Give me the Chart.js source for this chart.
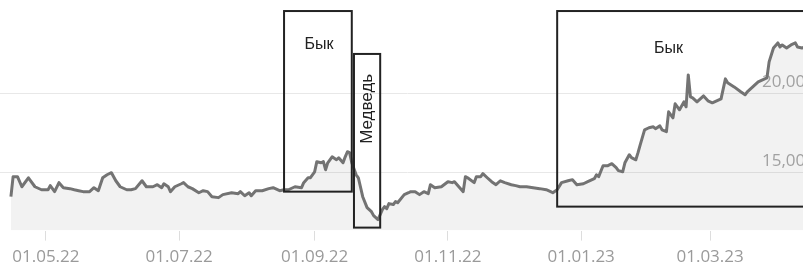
<!DOCTYPE html>
<html>
<head>
<meta charset="utf-8">
<script src="https://cdn.jsdelivr.net/npm/chart.js@4/dist/chart.umd.min.js"></script>
<style>
  html, body { margin: 0; padding: 0; background: #fff; overflow: hidden; }
  #wrap { width: 815px; height: 274px; position: relative; }
</style>
</head>
<body>
<div id="wrap"><canvas id="priceChart"></canvas></div>
<script>
const dates = [
  '2022-04-15','2022-04-16','2022-04-18','2022-04-20','2022-04-23','2022-04-26','2022-04-29',
  '2022-05-02','2022-05-03','2022-05-05','2022-05-07','2022-05-09','2022-05-12','2022-05-14',
  '2022-05-16','2022-05-18','2022-05-21','2022-05-23','2022-05-25','2022-05-27','2022-05-29',
  '2022-05-31','2022-06-02','2022-06-04','2022-06-07','2022-06-09','2022-06-11','2022-06-14',
  '2022-06-16','2022-06-19','2022-06-21','2022-06-23','2022-06-24','2022-06-26','2022-06-27',
  '2022-06-29','2022-07-02','2022-07-03','2022-07-05','2022-07-07','2022-07-10','2022-07-12',
  '2022-07-14','2022-07-16','2022-07-19','2022-07-21','2022-07-25','2022-07-28','2022-07-29',
  '2022-07-31','2022-08-02','2022-08-03','2022-08-05','2022-08-08','2022-08-11','2022-08-13',
  '2022-08-16','2022-08-18','2022-08-20','2022-08-23','2022-08-26','2022-08-27','2022-08-29',
  '2022-08-30','2022-09-01','2022-09-02','2022-09-04','2022-09-05','2022-09-06','2022-09-07',
  '2022-09-09','2022-09-11','2022-09-12','2022-09-14','2022-09-15','2022-09-16','2022-09-17',
  '2022-09-18','2022-09-20','2022-09-21','2022-09-23','2022-09-25','2022-09-27','2022-09-28',
  '2022-09-30','2022-10-01','2022-10-02','2022-10-03','2022-10-04','2022-10-05','2022-10-07',
  '2022-10-08','2022-10-09','2022-10-12','2022-10-14','2022-10-15','2022-10-17','2022-10-19',
  '2022-10-21','2022-10-23','2022-10-24','2022-10-26','2022-10-29','2022-11-01','2022-11-03',
  '2022-11-04','2022-11-06','2022-11-08','2022-11-09','2022-11-10','2022-11-13','2022-11-14',
  '2022-11-16','2022-11-17','2022-11-19','2022-11-21','2022-11-23','2022-11-25','2022-11-27',
  '2022-11-30','2022-12-02','2022-12-04','2022-12-07','2022-12-10','2022-12-13','2022-12-16',
  '2022-12-18','2022-12-19','2022-12-21','2022-12-23','2022-12-26','2022-12-28','2022-12-30',
  '2023-01-02','2023-01-04','2023-01-07','2023-01-08','2023-01-09','2023-01-11','2023-01-13',
  '2023-01-15','2023-01-17','2023-01-18','2023-01-20','2023-01-21','2023-01-23','2023-01-24',
  '2023-01-26','2023-01-27','2023-01-28','2023-01-30','2023-02-01','2023-02-03','2023-02-04',
  '2023-02-06','2023-02-07','2023-02-09','2023-02-10','2023-02-12','2023-02-13','2023-02-15',
  '2023-02-17','2023-02-18','2023-02-19','2023-02-20','2023-02-21','2023-02-23','2023-02-26',
  '2023-02-28','2023-03-02','2023-03-06','2023-03-08','2023-03-09','2023-03-12','2023-03-15',
  '2023-03-17','2023-03-18','2023-03-21','2023-03-23','2023-03-27','2023-03-28','2023-03-30',
  '2023-04-01','2023-04-02','2023-04-03','2023-04-05','2023-04-07','2023-04-09','2023-04-10',
  '2023-04-12','2023-04-15','2023-04-18'
];
const prices = [
  13480,14750,14750,14110,14680,14110,13920,
  13920,14180,13800,14370,14050,13990,13920,
  13860,13800,13800,14050,13860,14680,14870,
  15000,14490,14110,13920,13920,13990,14490,
  14110,14110,14240,14050,14300,14110,13800,
  14110,14300,14370,14110,13990,13730,13860,
  13800,13480,13420,13610,13730,13670,13800,
  13540,13730,13540,13860,13860,13990,14050,
  13860,13920,13920,14110,14050,14370,14680,
  14680,15060,15700,15630,15700,15190,15630,
  16010,15820,15950,15630,16010,16330,16270,
  15630,14870,14680,13480,12790,12530,12280,
  12030,12340,12660,12850,12720,13040,12980,
  13170,13100,13610,13730,13800,13800,13610,
  13800,13670,14240,14050,14110,14430,14370,
  14430,14110,13800,14750,14680,14370,14750,
  14750,14940,14680,14430,14240,14490,14370,
  14240,14180,14110,14110,14050,13990,13920,
  13800,13730,13920,14370,14490,14560,14240,
  14300,14430,14620,14870,14750,15440,15440,
  15570,15320,15130,15060,15630,16140,15950,
  15820,16270,16770,17720,17850,17910,17790,
  17970,17720,17600,18860,18480,19370,18990,
  19490,19180,21200,19810,19750,19490,19870,
  19560,19430,19680,20950,20700,20440,20130,
  19940,20130,20510,20760,21010,22030,22910,
  23230,22970,23100,22910,23100,23230,22970,
  22910,23040,22950
];

const tickDates = ['2022-05-01', '2022-07-01', '2022-09-01', '2022-11-01', '2023-01-01', '2023-03-01'];
const yTicks = [15000, 20000];

// zones drawn over the chart (in data units)
const zoneNames = ['Бык', 'Медведь', 'Бык'];
const zoneStart = ['2022-08-18', '2022-09-19', '2022-12-21'];
const zoneEnd = ['2022-09-18', '2022-10-01', '2023-06-01'];
const zoneHigh = [25250, 22530, 25250];
const zoneLow = [13800, 11520, 12850];
const nameDates = ['2022-09-03', '2022-09-25', '2023-02-10'];
const nameValues = [23100, 19050, 22850];
const nameRotated = [false, true, false];

const day = s => Date.parse(s) / 864e5;
const pad2 = n => String(n).padStart(2, '0');
function fmtDate(v) {
    const d = new Date(v * 864e5);
    return pad2(d.getUTCDate()) + '.' + pad2(d.getUTCMonth() + 1) + '.' + String(d.getUTCFullYear()).slice(2);
}

const zonePlugin = {
    id: 'zones',
    afterDatasetsDraw(chart) {
        const { ctx, scales: { x, y } } = chart;
        ctx.save();
        ctx.strokeStyle = '#222';
        ctx.lineWidth = 2;
        ctx.fillStyle = '#222';
        ctx.textAlign = 'center';
        ctx.textBaseline = 'middle';
        zoneNames.forEach((name, i) => {
            const x0 = x.getPixelForValue(day(zoneStart[i]));
            const x1 = x.getPixelForValue(day(zoneEnd[i]));
            const y0 = y.getPixelForValue(zoneHigh[i]);
            const y1 = y.getPixelForValue(zoneLow[i]);
            ctx.strokeRect(x0, y0, x1 - x0, y1 - y0);
            const tx = x.getPixelForValue(day(nameDates[i]));
            const ty = y.getPixelForValue(nameValues[i]);
            ctx.save();
            ctx.translate(tx, ty);
            if (nameRotated[i]) {
                ctx.rotate(-Math.PI / 2);
                ctx.font = '17px "Liberation Sans", Arial, sans-serif';
            } else {
                ctx.font = '16px "Liberation Sans", Arial, sans-serif';
            }
            ctx.fillText(name, 0, 0);
            ctx.restore();
        });
        ctx.restore();
    }
};

const noPad = s => { s.paddingTop = 0; s.paddingBottom = 0; s.paddingLeft = 0; s.paddingRight = 0; };

const priceCtx = document.getElementById('priceChart').getContext('2d');
const priceChart = new Chart(priceCtx, {
    type: 'line',
    data: {
        datasets: [{
            data: dates.map((d, i) => ({ x: day(d), y: prices[i] })),
            borderColor: '#737373',
            backgroundColor: 'rgba(0, 0, 0, 0.05)',
            borderWidth: 3,
            borderJoinStyle: 'round',
            pointRadius: 0,
            tension: 0,
            fill: 'start'
        }]
    },
    options: {
        responsive: true,
        maintainAspectRatio: false,
        animation: false,
        layout: { padding: { top: 0, left: 0, right: 0, bottom: 1 } },
        plugins: {
            legend: { display: false },
            tooltip: { enabled: false }
        },
        scales: {
            x: {
                type: 'linear',
                min: day('2022-04-10'),
                max: day('2023-04-18'),
                afterBuildTicks: s => { s.ticks = tickDates.map(d => ({ value: day(d) })); },
                afterFit: noPad,
                grid: { drawOnChartArea: false, drawTicks: true, tickLength: 10, color: '#dddddd' },
                border: { display: false },
                ticks: {
                    padding: 6,
                    color: '#9a9a9a',
                    font: { family: '"Open Sans", sans-serif', size: 17 },
                    maxRotation: 0,
                    autoSkip: false,
                    callback: v => fmtDate(v)
                }
            },
            y: {
                position: 'right',
                min: 11330,
                max: 25950,
                afterBuildTicks: s => { s.ticks = yTicks.map(v => ({ value: v })); },
                afterFit: noPad,
                grid: { drawTicks: false, color: '#e8e8e8' },
                border: { display: false },
                ticks: {
                    mirror: true,
                    padding: 0,
                    labelOffset: -12,
                    color: '#aaaaaa',
                    font: { family: '"Open Sans", sans-serif', size: 17 },
                    callback: v => v.toLocaleString('en-US')
                }
            }
        }
    },
    plugins: [zonePlugin]
});
</script>
</body>
</html>
